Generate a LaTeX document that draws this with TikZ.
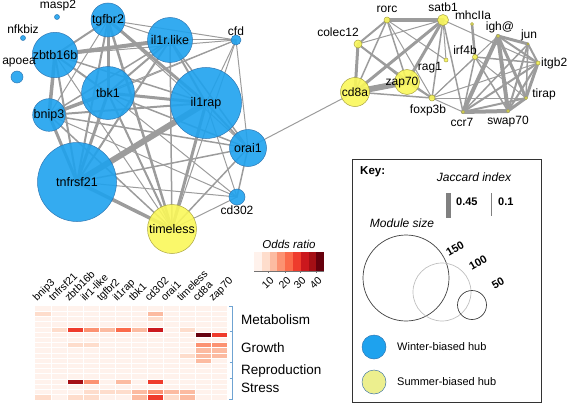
\documentclass[tikz,border=0pt]{standalone}
\usepackage{fontspec}
\setmainfont{Liberation Sans}
\pgfdeclarelayer{bg}
\pgfsetlayers{bg,main}
\definecolor{wblue}{HTML}{1EA2EE}
\definecolor{wborder}{HTML}{2F78B5}
\definecolor{syel}{HTML}{FAF75A}
\definecolor{sborder}{HTML}{A9A441}
\definecolor{slegend}{HTML}{ECEF8E}
\definecolor{egray}{HTML}{9C9C9C}
\definecolor{brk}{HTML}{6FA3D2}
\definecolor{R0}{HTML}{FFF2EC}
\definecolor{R1}{HTML}{FEDDCC}
\definecolor{R2}{HTML}{FCBBA1}
\definecolor{R3}{HTML}{FC9272}
\definecolor{R4}{HTML}{FB6A4A}
\definecolor{R5}{HTML}{EF3B2C}
\definecolor{R6}{HTML}{CB181D}
\definecolor{R7}{HTML}{A50F15}
\definecolor{R8}{HTML}{67000D}
\begin{document}
\begin{tikzpicture}[x=1pt,y=-1pt,
  wn/.style={circle,draw=wborder,fill=wblue,fill opacity=0.9,text opacity=1,inner sep=0pt,line width=0.5pt,font=\fontsize{12.5}{12.5}\selectfont},
  sn/.style={circle,draw=sborder,fill=syel,fill opacity=0.9,text opacity=1,inner sep=0pt,line width=0.5pt,font=\fontsize{12.5}{12.5}\selectfont},
  lab/.style={inner sep=0pt,font=\fontsize{12}{12}\selectfont},
  edge/.style={draw=egray,line cap=round},
  hcol/.style={inner sep=0pt,anchor=base west,rotate=45,font=\fontsize{10.5}{10.5}\selectfont},
  cat/.style={inner sep=0pt,anchor=west,font=\fontsize{13.5}{13.5}\selectfont},
  keyt/.style={inner sep=0pt,font=\fontsize{11.5}{11.5}\selectfont},
  modc/.style={draw=black!75,line width=0.7pt}]
\useasboundingbox (0,0) rectangle (567,404);
% ---------- left network nodes ----------
\node[wn,minimum size=34pt] (T) at (108,20) {tgfbr2};
\node[wn,minimum size=45pt] (L) at (170,40) {il1r.like};
\node[wn,minimum size=10pt,label={[lab,yshift=-1pt]above:cfd}] (cfd) at (236,40) {};
\node[wn,minimum size=27pt] (Z) at (55,55) {zbtb16b};
\node[wn,minimum size=53pt] (K) at (108,93) {tbk1};
\node[wn,minimum size=71pt] (R) at (206,103) {il1rap};
\node[wn,minimum size=32pt] (B) at (49,115) {bnip3};
\node[wn,minimum size=37pt] (O) at (248,148) {orai1};
\node[wn,minimum size=79pt] (N) at (77,182) {tnfrsf21};
\node[wn,minimum size=16pt] (C) at (237,197) {};
\node[lab,anchor=north] (Clab) at (237,206) {cd302};
\node[sn,minimum size=49pt] (M) at (172,229) {timeless};
\node[wn,minimum size=5pt] (masp) at (57,17) {};
\node[lab] (masplab) at (58,6) {masp2};
\node[wn,minimum size=5pt] (nfk) at (23,38) {};
\node[lab] (nfklab) at (23,29) {nfkbiz};
\node[wn,minimum size=12pt] (apo) at (17,77) {};
\node[lab] (apolab) at (19,63) {apoea};
% ---------- right network nodes ----------
\node[sn,minimum size=6pt] (rorc) at (387,20) {};
\node[lab] (rorclab) at (387,9) {rorc};
\node[sn,minimum size=11pt] (satb) at (443,20) {};
\node[lab] (satblab) at (443,7) {satb1};
\node[sn,minimum size=3pt] (mhc) at (472,24) {};
\node[lab] (mhclab) at (473,15) {mhcIIa};
\node[sn,minimum size=3pt] (igh) at (498,36) {};
\node[lab] (ighlab) at (500,27) {igh@};
\node[sn,minimum size=2pt] (jun) at (528,44) {};
\node[lab] (junlab) at (529,35) {jun};
\node[sn,minimum size=4pt] (itg) at (538,63) {};
\node[lab,anchor=west] (itglab) at (541,63) {itgb2};
\node[sn,minimum size=5pt] (irf) at (475,57) {};
\node[lab] (irflab) at (465,50) {irf4b};
\node[sn,minimum size=4pt] (rag) at (446,60) {};
\node[lab] (raglab) at (430,68) {rag1};
\node[sn,minimum size=8pt] (col) at (358,44) {};
\node[lab] (collab) at (338,32) {colec12};
\node[sn,minimum size=29pt,font=\fontsize{12}{12}\selectfont] (cd8) at (355,92) {cd8a};
\node[sn,minimum size=25pt] (zap) at (407,82) {};
\node[lab] (zaplab) at (402,83) {zap70};
\node[sn,minimum size=6pt] (fox) at (432,98) {};
\node[lab] (foxlab) at (428,110) {foxp3b};
\node[sn,minimum size=3pt] (ccr) at (463,112) {};
\node[lab] (ccrlab) at (462,122) {ccr7};
\node[sn,minimum size=3pt] (swap) at (508,111) {};
\node[lab] (swaplab) at (508,122) {swap70};
\node[sn,minimum size=3pt] (tir) at (526,98) {};
\node[lab] (tirlab) at (544,94) {tirap};
% ---------- edges ----------
\begin{pgfonlayer}{bg}
\foreach \a/\b/\w in {T/L/1,T/cfd/1,T/Z/2,T/K/3,T/R/3,T/B/1,T/N/2,T/M/2.5,T/O/1,
  Z/L/4,Z/B/3.5,Z/K/2,Z/N/2,Z/R/1.5,Z/M/1,Z/cfd/1,
  L/cfd/1,L/K/2,L/R/2,L/B/1.5,L/N/2,L/M/1.5,L/O/1.5,
  cfd/R/1,cfd/K/1,cfd/O/1,cfd/M/1,cfd/B/1,
  K/R/3,K/B/3.5,K/N/3,K/M/2,K/O/1.5,K/C/1,
  R/N/6,R/M/3,R/B/2,R/O/2,R/C/1,
  B/N/3,B/O/1.5,B/M/1.5,B/C/1,
  N/M/3.5,N/O/1.5,N/C/1,O/M/1.5,O/C/1.5,C/M/1,O/cd8/1,
  rorc/satb/4,rorc/col/2,rorc/cd8/1.5,rorc/zap/1.5,rorc/fox/1,rorc/rag/1,
  satb/cd8/3,satb/zap/3,satb/rag/1,satb/fox/1.5,satb/ccr/1.5,satb/itg/1,satb/col/1,
  col/cd8/3,col/zap/2,col/fox/1,cd8/zap/6,cd8/fox/1.5,zap/fox/2,
  fox/irf/1,fox/itg/1,fox/tir/1,fox/igh/1,fox/ccr/1,
  mhc/irf/2.5,irf/ccr/1.5,irf/swap/1.5,irf/itg/1.5,irf/tir/1,
  ccr/swap/4,ccr/igh/4,ccr/itg/2,ccr/tir/2,ccr/jun/1.5,
  swap/igh/4,swap/itg/2,swap/tir/3,swap/jun/2,
  igh/jun/3,igh/itg/2,igh/tir/3,jun/itg/2,jun/tir/1.5,itg/tir/3}
  \draw[edge,line width=\w pt] (\a.center) -- (\b.center);
\end{pgfonlayer}
% ---------- heatmap ----------
\fill[R0] (35,306) rectangle (227,399.6);
\foreach \c/\r/\k in {0/1/R1,7/1/R2,7/2/R1,
  1/4/R1,2/4/R5,3/4/R3,4/4/R2,5/4/R4,6/4/R2,7/4/R6,9/4/R1,
  10/5/R8,11/5/R5,
  2/7/R1,3/7/R1,10/7/R3,11/7/R3,
  10/8/R2,11/8/R2,9/9/R1,10/9/R2,11/9/R2,10/10/R2,
  2/14/R7,3/14/R3,5/14/R2,7/14/R5,
  3/16/R1,4/16/R1,5/16/R1,6/16/R2,7/16/R3,8/16/R2,9/16/R2,
  0/17/R1,2/17/R1,3/17/R1,6/17/R2,7/17/R5,8/17/R1,9/17/R2}
  \fill[\k] ({35+16*\c},{306+5.2*\r}) rectangle ++(16,5.2);
\foreach \c in {1,...,11} \draw[white,line width=0.4pt] ({35+16*\c},306) -- ({35+16*\c},399.6);
\foreach \r in {1,...,17} \draw[white,line width=0.3pt] (35,{306+5.2*\r}) -- (227,{306+5.2*\r});
\foreach \t [count=\i from 0] in {bnip3,tnfrsf21,zbtb16b,ilr1-like,tgfbr2,il1rap,tbk1,cd302,orai1,timeless,cd8a,zap70}
  \node[hcol] (hc\i) at ({37+16*\i},302) {\t};
% bracket
\draw[brk,line width=0.7pt] (229,306) -- (232,306) -- (232,399) -- (229,399);
\foreach \y in {331,362,378} \draw[brk,line width=0.7pt] (229.5,\y) -- (232,\y);
\node[cat] (met) at (241,320) {Metabolism};
\node[cat] (gro) at (241,348) {Growth};
\node[cat] (rep) at (241,371) {Reproduction};
\node[cat] (str) at (241,388) {Stress};
% ---------- odds ratio legend ----------
\node[inner sep=0pt,font=\fontsize{11.5}{11.5}\selectfont\itshape] (orl) at (289,244) {Odds ratio};
\foreach \k [count=\i from 0] in {R0,R1,R2,R3,R4,R5,R6,R7,R8}
  \fill[\k] ({254+7.8*\i},252) rectangle ++(7.9,19);
\draw[black!55,line width=0.5pt] (254,271) -- (324.2,271);
\foreach \x/\v in {268/10,285/20,300/30,316/40}{
  \draw[black!55,line width=0.5pt] (\x,271) -- (\x,273);
  \node[inner sep=0pt,anchor=east,rotate=45,font=\fontsize{10.5}{10.5}\selectfont] at (\x+4,279) {\v};}
% ---------- key ----------
\draw[black!80,line width=0.8pt] (352,159) rectangle (541,402);
\node[keyt,anchor=west,font=\fontsize{11.5}{11.5}\selectfont\bfseries] (key) at (360,172) {Key:};
\node[keyt,font=\fontsize{12}{12}\selectfont\itshape] (jac) at (474,177) {Jaccard index};
\fill[black!50] (446,193) rectangle (451,218);
\fill[black!50] (490.5,193) rectangle (492,216);
\node[keyt,anchor=west,font=\fontsize{11}{11}\selectfont\bfseries] (j45) at (456,202) {0.45};
\node[keyt,anchor=west,font=\fontsize{11}{11}\selectfont\bfseries] (j10) at (498,202) {0.1};
\node[keyt,font=\fontsize{12}{12}\selectfont\itshape] (mods) at (402,223) {Module size};
\draw[modc] (406,278) circle (43);
\draw[black!25,line width=0.7pt] (442,292) circle (29);
\draw[modc] (472,305) circle (14.5);
\node[keyt,rotate=30,font=\fontsize{11}{11}\selectfont\bfseries] (m150) at (455,249) {150};
\node[keyt,rotate=30,font=\fontsize{11}{11}\selectfont\bfseries] (m100) at (478,263) {100};
\node[keyt,rotate=30,font=\fontsize{11}{11}\selectfont\bfseries] (m50) at (498,283) {50};
\node[circle,draw=wborder,fill=wblue,minimum size=24pt,inner sep=0pt,line width=0.5pt] (wl) at (374,347) {};
\node[keyt,anchor=west,font=\fontsize{11}{11}\selectfont] (wlab) at (397,347) {Winter-biased hub};
\node[circle,draw=wborder!70!gray,fill=slegend,minimum size=24pt,inner sep=0pt,line width=0.5pt] (sl) at (374,382) {};
\node[keyt,anchor=west,font=\fontsize{11}{11}\selectfont] (slab) at (397,382) {Summer-biased hub};
\end{tikzpicture}
\end{document}
